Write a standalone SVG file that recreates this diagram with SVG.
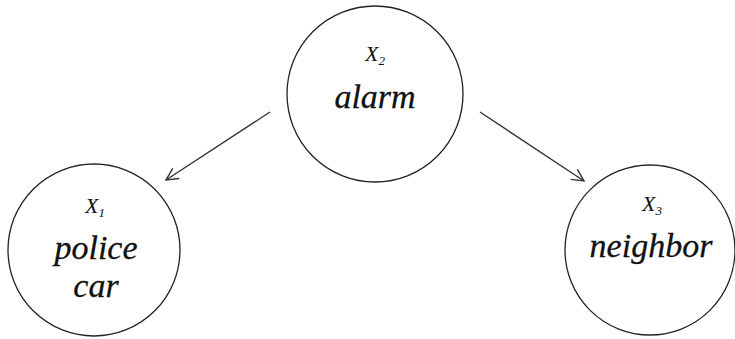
<svg xmlns="http://www.w3.org/2000/svg" width="735" height="339" viewBox="0 0 735 339">
<style>
.node{fill:#fff;stroke:#222;stroke-width:1.3}
.lbl{font-family:"Liberation Serif","DejaVu Serif",serif;font-style:italic;font-size:34px;fill:#111;text-anchor:middle;stroke:#111;stroke-width:0.3}
.var{font-family:"Liberation Serif","DejaVu Serif",serif;font-style:italic;font-size:22px;fill:#111;text-anchor:middle}
.sub{font-size:13px}
.edge{stroke:#333;stroke-width:1.4;fill:none}
</style>
<defs>
<marker id="arr" viewBox="0 0 14 14" refX="13" refY="7" markerWidth="14" markerHeight="14" markerUnits="userSpaceOnUse" orient="auto">
<path d="M1,1 L13,7 L1,13" fill="none" stroke="#333" stroke-width="1.4"/>
</marker>
</defs>
<g id="connectors">
<line class="edge" x1="270" y1="112" x2="166" y2="180" marker-end="url(#arr)"/>
<line class="edge" x1="480" y1="112" x2="584" y2="181" marker-end="url(#arr)"/>
</g>
<g id="alarm">
<circle class="node" cx="375" cy="94" r="88"/>
<text class="var" x="375" y="61">X<tspan class="sub" dy="4">2</tspan></text>
<text class="lbl" x="375" y="108">alarm</text>
</g>
<g id="police">
<circle class="node" cx="94" cy="250" r="86"/>
<text class="var" x="95" y="213">X<tspan class="sub" dy="4">1</tspan></text>
<text class="lbl" x="96" y="259">police</text>
<text class="lbl" x="96" y="297">car</text>
</g>
<g id="neighbor">
<circle class="node" cx="650" cy="250" r="85"/>
<text class="var" x="652" y="211">X<tspan class="sub" dy="4">3</tspan></text>
<text class="lbl" x="651" y="257">neighbor</text>
</g>
</svg>
